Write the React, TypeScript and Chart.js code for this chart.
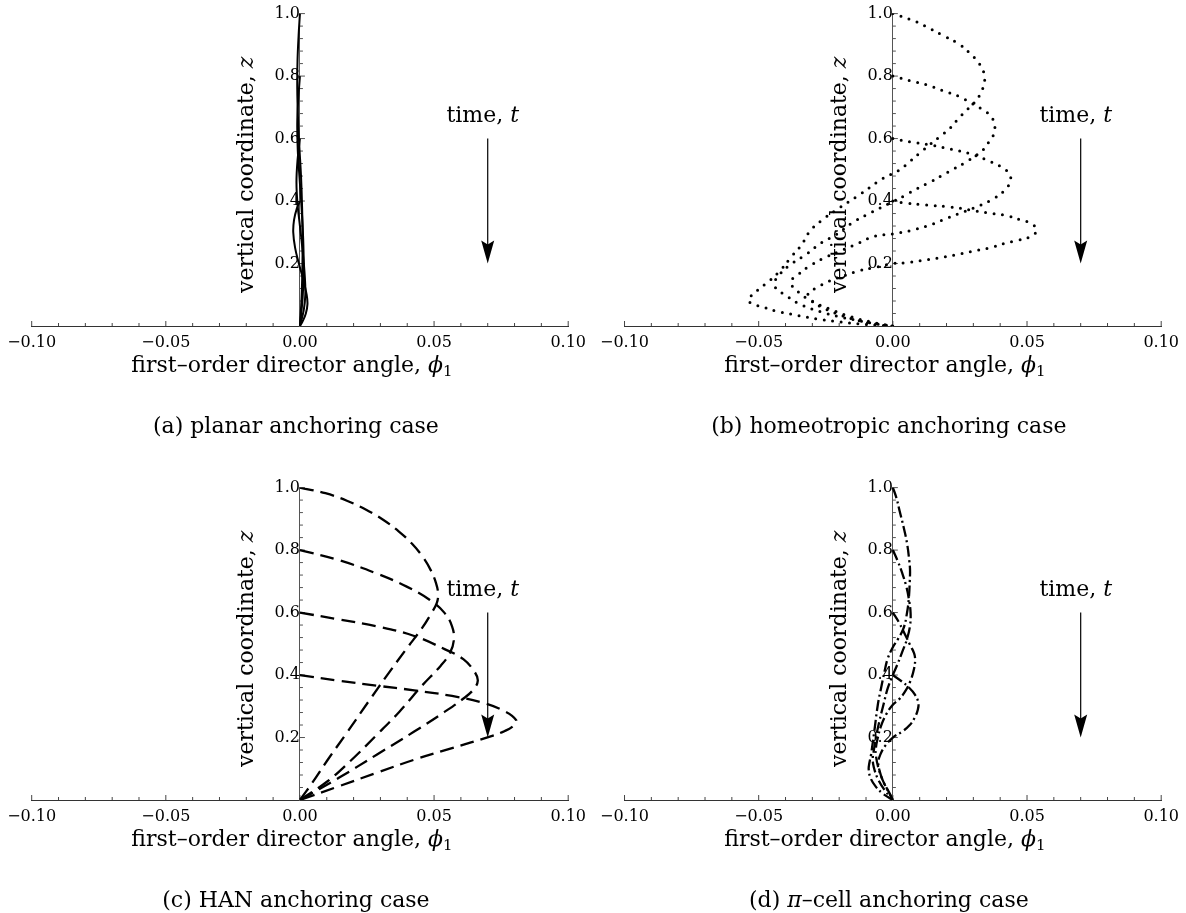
import React, { useEffect, useRef } from 'react';
import { Chart, registerables } from 'chart.js';

Chart.register(...registerables);

type Pt = [number, number];

// ---------- axis / label content ----------
const xMin = -0.1;
const xMax = 0.1;
const xStep = 0.05;
const yMin = 0;
const yMax = 1;
const yStep = 0.2;
const xMinorStep = 0.01;
const yMinorStep = 0.04;
const xTitleText = 'first–order director angle, ';
const xTitleSymbol = 'ϕ';
const xTitleSub = '1';
const yTitleText = 'vertical coordinate, ';
const yTitleSymbol = 'z';
const timeText = 'time, ';
const timeSymbol = 't';
const arrowPhi = 0.07;
const arrowFromZ = 0.6;
const arrowToZ = 0.2;
const timeLabelZ = 0.652;

// ---------- (a) planar anchoring: [phi1, z] ----------
const planar1: Pt[] = [[0, 1], [-0.0005, 0.93], [-0.0009, 0.85], [-0.001, 0.76], [-0.0007, 0.66], [-0.0002, 0.57], [0.0004, 0.48], [0.0008, 0.38], [0.001, 0.28], [0.0009, 0.18], [0.0006, 0.09], [0, 0]];
const planar2: Pt[] = [[0, 0.8], [-0.0006, 0.73], [-0.001, 0.65], [-0.0008, 0.56], [-0.0002, 0.48], [0.0006, 0.38], [0.0012, 0.28], [0.0014, 0.18], [0.001, 0.09], [0, 0]];
const planar3: Pt[] = [[0, 0.6], [-0.0009, 0.53], [-0.0013, 0.46], [-0.0009, 0.39], [0, 0.32], [0.001, 0.24], [0.0018, 0.16], [0.002, 0.1], [0.0014, 0.05], [0, 0]];
const planar4: Pt[] = [[0, 0.4], [-0.0012, 0.375], [-0.0022, 0.34], [-0.0025, 0.3], [-0.0018, 0.25], [-0.0004, 0.2], [0.0012, 0.15], [0.0025, 0.1], [0.0028, 0.07], [0.0022, 0.04], [0.001, 0.015], [0, 0]];

// ---------- (b) homeotropic anchoring ----------
const homeo1: Pt[] = [[0, 1], [0.0078, 0.977], [0.0134, 0.954], [0.019, 0.929], [0.0246, 0.903], [0.0289, 0.872], [0.0317, 0.845], [0.0333, 0.824], [0.0342, 0.798], [0.0339, 0.772], [0.0327, 0.745], [0.0308, 0.719], [0.0277, 0.693], [0.0246, 0.666], [0.0215, 0.635], [0.0178, 0.608], [0.014, 0.582], [0.0103, 0.556], [0.0066, 0.529], [0.0022, 0.498], [-0.0042, 0.47], [-0.0126, 0.419], [-0.021, 0.372], [-0.027, 0.335], [-0.031, 0.303], [-0.034, 0.26], [-0.038, 0.22], [-0.042, 0.177], [-0.046, 0.145], [-0.0505, 0.114], [-0.053, 0.095], [-0.054, 0.083], [-0.052, 0.07], [-0.0475, 0.058], [-0.0435, 0.048], [-0.035, 0.033], [-0.027, 0.021], [-0.0196, 0.013], [-0.0126, 0.007], [-0.006, 0.003], [0, 0]];
const homeo2: Pt[] = [[0, 0.8], [0.0066, 0.785], [0.0128, 0.772], [0.0184, 0.754], [0.0246, 0.735], [0.0296, 0.712], [0.0345, 0.687], [0.037, 0.666], [0.038, 0.64], [0.0376, 0.614], [0.0364, 0.598], [0.0339, 0.566], [0.0308, 0.545], [0.0271, 0.524], [0.0227, 0.503], [0.0184, 0.482], [0.014, 0.461], [0.0091, 0.44], [0.0047, 0.419], [0, 0.398], [-0.0098, 0.356], [-0.0154, 0.329], [-0.021, 0.293], [-0.0267, 0.266], [-0.0323, 0.229], [-0.0379, 0.198], [-0.0421, 0.166], [-0.0442, 0.135], [-0.0428, 0.114], [-0.0407, 0.103], [-0.0351, 0.072], [-0.0267, 0.045], [-0.0196, 0.029], [-0.0126, 0.017], [-0.0056, 0.006], [0, 0]];
const homeo3: Pt[] = [[0, 0.6], [0.0066, 0.589], [0.014, 0.58], [0.0215, 0.566], [0.0289, 0.551], [0.0364, 0.526], [0.042, 0.5], [0.0439, 0.477], [0.0432, 0.451], [0.0414, 0.432], [0.0376, 0.408], [0.0327, 0.387], [0.0265, 0.366], [0.0202, 0.345], [0.014, 0.324], [0.0078, 0.308], [0, 0.295], [-0.007, 0.287], [-0.0126, 0.266], [-0.0196, 0.24], [-0.0253, 0.219], [-0.0309, 0.193], [-0.0351, 0.166], [-0.0379, 0.145], [-0.0372, 0.124], [-0.0351, 0.108], [-0.0309, 0.082], [-0.0239, 0.056], [-0.0154, 0.029], [-0.007, 0.011], [0, 0]];
const homeo4: Pt[] = [[0, 0.4], [0.0053, 0.393], [0.0103, 0.389], [0.0153, 0.385], [0.0202, 0.382], [0.0252, 0.377], [0.0302, 0.369], [0.0364, 0.361], [0.0426, 0.353], [0.0476, 0.34], [0.0513, 0.329], [0.0535, 0.312], [0.0532, 0.298], [0.0507, 0.284], [0.0463, 0.274], [0.0414, 0.264], [0.0364, 0.251], [0.0302, 0.24], [0.024, 0.229], [0.0178, 0.219], [0.0116, 0.211], [0.0053, 0.203], [0, 0.2], [-0.007, 0.187], [-0.0126, 0.177], [-0.0182, 0.161], [-0.0239, 0.143], [-0.0281, 0.124], [-0.0316, 0.103], [-0.0302, 0.082], [-0.0267, 0.061], [-0.0196, 0.035], [-0.0126, 0.017], [-0.0056, 0.005], [0, 0]];

// ---------- (c) HAN anchoring ----------
const han1: Pt[] = [[0, 1], [0.0095, 0.982], [0.0175, 0.958], [0.0245, 0.93], [0.031, 0.897], [0.0368, 0.86], [0.0418, 0.82], [0.0458, 0.778], [0.0488, 0.735], [0.0507, 0.695], [0.0515, 0.66], [0.051, 0.63], [0.0488, 0.595], [0.0455, 0.55], [0.0398, 0.485], [0.0328, 0.403], [0.0258, 0.318], [0.0173, 0.213], [0.0103, 0.128], [0.0046, 0.055], [0, 0]];
const han2: Pt[] = [[0, 0.8], [0.0145, 0.768], [0.0286, 0.725], [0.0398, 0.683], [0.0483, 0.641], [0.0539, 0.599], [0.0567, 0.556], [0.0574, 0.514], [0.056, 0.472], [0.0525, 0.43], [0.0455, 0.366], [0.037, 0.282], [0.0286, 0.208], [0.0187, 0.124], [0.0103, 0.06], [0, 0]];
const han3: Pt[] = [[0, 0.6], [0.0145, 0.578], [0.0286, 0.556], [0.0426, 0.525], [0.0539, 0.483], [0.0609, 0.451], [0.0652, 0.409], [0.0663, 0.382], [0.0649, 0.356], [0.0616, 0.329], [0.0539, 0.282], [0.0426, 0.219], [0.0286, 0.145], [0.0145, 0.071], [0, 0]];
const han4: Pt[] = [[0, 0.4], [0.0145, 0.382], [0.0286, 0.366], [0.0426, 0.351], [0.0567, 0.333], [0.068, 0.312], [0.0764, 0.284], [0.0806, 0.256], [0.0799, 0.24], [0.0764, 0.221], [0.0708, 0.203], [0.0567, 0.166], [0.0426, 0.129], [0.0286, 0.087], [0.0145, 0.044], [0, 0]];

// ---------- (d) pi-cell anchoring ----------
const piCell1: Pt[] = [[0, 1], [0.0013, 0.968], [0.0025, 0.926], [0.004, 0.874], [0.0053, 0.821], [0.0061, 0.768], [0.0064, 0.736], [0.0063, 0.7], [0.006, 0.65], [0.0053, 0.6], [0.004, 0.55], [0.0019, 0.515], [0, 0.489], [-0.0019, 0.453], [-0.0031, 0.411], [-0.0044, 0.358], [-0.0056, 0.305], [-0.0069, 0.221], [-0.0081, 0.147], [-0.0088, 0.116], [-0.009, 0.098], [-0.0083, 0.07], [-0.0063, 0.042], [-0.0038, 0.021], [0, 0]];
const piCell2: Pt[] = [[0, 0.8], [0.0019, 0.763], [0.0035, 0.726], [0.005, 0.684], [0.006, 0.642], [0.0066, 0.6], [0.0064, 0.558], [0.0053, 0.516], [0.0035, 0.474], [0.0016, 0.432], [0, 0.4], [-0.0019, 0.358], [-0.0035, 0.305], [-0.005, 0.253], [-0.0063, 0.2], [-0.0071, 0.158], [-0.0075, 0.132], [-0.0071, 0.105], [-0.0056, 0.068], [-0.0031, 0.032], [0, 0]];
const piCell3: Pt[] = [[0, 0.6], [0.0023, 0.568], [0.0044, 0.532], [0.0065, 0.495], [0.0079, 0.47], [0.0083, 0.45], [0.0079, 0.42], [0.0065, 0.38], [0.0044, 0.345], [0.0023, 0.322], [0, 0.305], [-0.0025, 0.274], [-0.0044, 0.237], [-0.0056, 0.2], [-0.0063, 0.168], [-0.0063, 0.142], [-0.0053, 0.1], [-0.0035, 0.058], [0, 0]];
const piCell4: Pt[] = [[0, 0.4], [0.0031, 0.381], [0.006, 0.36], [0.0081, 0.339], [0.0095, 0.312], [0.0093, 0.289], [0.0081, 0.263], [0.0063, 0.24], [0.0035, 0.219], [0, 0.2], [-0.0028, 0.174], [-0.0046, 0.147], [-0.0054, 0.121], [-0.005, 0.095], [-0.0035, 0.058], [-0.0015, 0.026], [0, 0]];

type Seg = { t: string; italic?: boolean; sub?: boolean };

const captionA: Seg[] = [{ t: '(a) planar anchoring case' }];
const captionB: Seg[] = [{ t: '(b) homeotropic anchoring case' }];
const captionC: Seg[] = [{ t: '(c) HAN anchoring case' }];
const captionD: Seg[] = [{ t: '(d) ' }, { t: 'π', italic: true }, { t: '–cell anchoring case' }];

const FAMILY = "'DejaVu Serif'";
const TITLE_SIZE = 22;

type LineStyle = { width: number; dash: number[]; cap: CanvasLineCap };
const solidStyle: LineStyle = { width: 2, dash: [], cap: 'butt' };
const dottedStyle: LineStyle = { width: 3, dash: [0, 8.5], cap: 'round' };
const dashedStyle: LineStyle = { width: 2.3, dash: [14, 7], cap: 'butt' };
const dashDotStyle: LineStyle = { width: 2.3, dash: [11, 3.5, 2, 3.5], cap: 'butt' };

type Panel = {
  curves: Pt[][];
  style: LineStyle;
  caption: Seg[];
  left: number;
  top: number;
  padL: number;
  padR: number;
};

const CANVAS_W = 593;
const CANVAS_H = 439;
const AREA_TOP = 10;
const AREA_BOTTOM = 326;

const panels: Panel[] = [
  { curves: [planar1, planar2, planar3, planar4], style: solidStyle, caption: captionA, left: 0, top: 0, padL: 31.7, padR: 21.3 },
  { curves: [homeo1, homeo2, homeo3, homeo4], style: dottedStyle, caption: captionB, left: 593, top: 0, padL: 28.7, padR: 24.3 },
  { curves: [han1, han2, han3, han4], style: dashedStyle, caption: captionC, left: 0, top: 474, padL: 31.7, padR: 21.3 },
  { curves: [piCell1, piCell2, piCell3, piCell4], style: dashDotStyle, caption: captionD, left: 593, top: 474, padL: 28.7, padR: 24.3 },
];

function segFont(s: Seg, size: number) {
  const sz = s.sub ? Math.round(size * 0.7) : size;
  return `${s.italic ? 'italic ' : ''}${sz}px ${FAMILY}`;
}

function drawRich(ctx: CanvasRenderingContext2D, segs: Seg[], x: number, y: number, rot: number, size: number) {
  ctx.save();
  ctx.translate(x, y);
  ctx.rotate(rot);
  ctx.textAlign = 'left';
  ctx.textBaseline = 'alphabetic';
  ctx.fillStyle = '#000';
  const widths = segs.map((s) => {
    ctx.font = segFont(s, size);
    return ctx.measureText(s.t).width;
  });
  const total = widths.reduce((a, b) => a + b, 0);
  let cx = -total / 2;
  segs.forEach((s, i) => {
    ctx.font = segFont(s, size);
    ctx.fillText(s.t, cx, s.sub ? size * 0.22 : 0);
    cx += widths[i];
  });
  ctx.restore();
}

function fmtX(v: number) {
  if (Math.abs(v) < 1e-9) return '0.00';
  return (v < 0 ? '−' : '') + Math.abs(v).toFixed(2);
}

function makeDecor(panel: Panel) {
  return {
    id: 'decor',
    beforeDatasetsDraw(chart: any) {
      const ctx: CanvasRenderingContext2D = chart.ctx;
      const xs = chart.scales.x;
      const ys = chart.scales.y;
      const x0 = xs.getPixelForValue(0);
      const yb = ys.getPixelForValue(0);
      ctx.save();
      ctx.lineWidth = 1;
      ctx.strokeStyle = '#444';
      const nx = Math.round((xMax - xMin) / xMinorStep);
      for (let i = 0; i <= nx; i++) {
        const v = xMin + i * xMinorStep;
        const px = xs.getPixelForValue(v);
        const major = i % 5 === 0;
        ctx.beginPath();
        ctx.moveTo(px, yb);
        ctx.lineTo(px, yb - (major ? 5 : 3));
        ctx.stroke();
      }
      const ny = Math.round((yMax - yMin) / yMinorStep);
      ctx.strokeStyle = '#555';
      for (let j = 1; j <= ny; j++) {
        const v = yMin + j * yMinorStep;
        const py = ys.getPixelForValue(v);
        const major = j % 5 === 0;
        ctx.beginPath();
        ctx.moveTo(x0, py);
        ctx.lineTo(x0 + (major ? 5 : 3), py);
        ctx.stroke();
      }
      ctx.restore();
    },
    afterDraw(chart: any) {
      const ctx: CanvasRenderingContext2D = chart.ctx;
      const xs = chart.scales.x;
      const ys = chart.scales.y;
      const area = chart.chartArea;
      const x0 = xs.getPixelForValue(0);
      const yb = ys.getPixelForValue(0);
      const cx = (area.left + area.right) / 2;
      drawRich(ctx, [{ t: xTitleText }, { t: xTitleSymbol, italic: true }, { t: xTitleSub, sub: true }], cx - 8, yb + 45.5, 0, TITLE_SIZE);
      drawRich(ctx, [{ t: yTitleText }, { t: yTitleSymbol, italic: true }], x0 - 47, (area.top + area.bottom) / 2 + 5, -Math.PI / 2, TITLE_SIZE);
      const ax = xs.getPixelForValue(arrowPhi);
      const ay1 = ys.getPixelForValue(arrowFromZ);
      const ay2 = ys.getPixelForValue(arrowToZ);
      ctx.save();
      ctx.strokeStyle = '#000';
      ctx.fillStyle = '#000';
      ctx.lineWidth = 1.2;
      ctx.beginPath();
      ctx.moveTo(ax, ay1);
      ctx.lineTo(ax, ay2 - 16);
      ctx.stroke();
      ctx.beginPath();
      ctx.moveTo(ax, ay2);
      ctx.lineTo(ax - 6.5, ay2 - 23);
      ctx.lineTo(ax, ay2 - 19);
      ctx.lineTo(ax + 6.5, ay2 - 23);
      ctx.closePath();
      ctx.fill();
      ctx.restore();
      drawRich(ctx, [{ t: timeText }, { t: timeSymbol, italic: true }], ax - 5, ys.getPixelForValue(timeLabelZ), 0, TITLE_SIZE);
      drawRich(ctx, panel.caption, cx - 4, yb + 106.5, 0, TITLE_SIZE);
    },
  };
}

function buildChart(canvas: HTMLCanvasElement, panel: Panel) {
  const st = panel.style;
  return new Chart(canvas, {
    type: 'line',
    data: {
      datasets: panel.curves.map((c) => ({
        data: c.map(([x, y]) => ({ x, y })),
        borderColor: '#000',
        borderWidth: st.width,
        borderDash: st.dash,
        borderCapStyle: st.cap,
        borderJoinStyle: 'round',
        tension: 0.4,
        pointRadius: 0,
        pointHoverRadius: 0,
        fill: false,
      })),
    },
    options: {
      responsive: false,
      animation: false,
      events: [],
      layout: { padding: { left: panel.padL, right: panel.padR, top: AREA_TOP, bottom: 0 } },
      plugins: { legend: { display: false }, tooltip: { enabled: false }, title: { display: false } },
      scales: {
        x: {
          type: 'linear',
          min: xMin,
          max: xMax,
          grid: { display: false, drawTicks: false },
          border: { display: true, color: '#333', width: 1 },
          ticks: {
            stepSize: xStep,
            padding: 7,
            color: '#000',
            autoSkip: false,
            maxRotation: 0,
            font: { family: FAMILY, size: 16 },
            callback: (v: any) => fmtX(Number(v)),
          },
          afterFit: (s: any) => {
            s.height = CANVAS_H - AREA_BOTTOM;
          },
        },
        y: {
          type: 'linear',
          min: yMin,
          max: yMax,
          position: { x: 0 },
          grid: { display: false, drawTicks: false },
          border: { display: true, color: '#555', width: 1 },
          ticks: {
            stepSize: yStep,
            padding: 4,
            color: '#000',
            autoSkip: false,
            font: { family: FAMILY, size: 16 },
            callback: (v: any) => (Math.abs(Number(v)) < 1e-9 ? '' : Number(v).toFixed(1)),
          },
        },
      },
    } as any,
    plugins: [makeDecor(panel)],
  });
}

function PanelCanvas({ panel }: { panel: Panel }) {
  const ref = useRef<HTMLCanvasElement | null>(null);
  useEffect(() => {
    if (!ref.current) return;
    const chart = buildChart(ref.current, panel);
    return () => chart.destroy();
  }, [panel]);
  return (
    <canvas
      ref={ref}
      width={CANVAS_W}
      height={CANVAS_H}
      style={{ position: 'absolute', left: panel.left, top: panel.top, width: CANVAS_W, height: CANVAS_H }}
    />
  );
}

export default function App() {
  return (
    <div style={{ position: 'absolute', left: 0, top: 0, width: 1186, height: 913, background: '#fff', overflow: 'hidden' }}>
      {panels.map((p, i) => (
        <PanelCanvas key={i} panel={p} />
      ))}
    </div>
  );
}
